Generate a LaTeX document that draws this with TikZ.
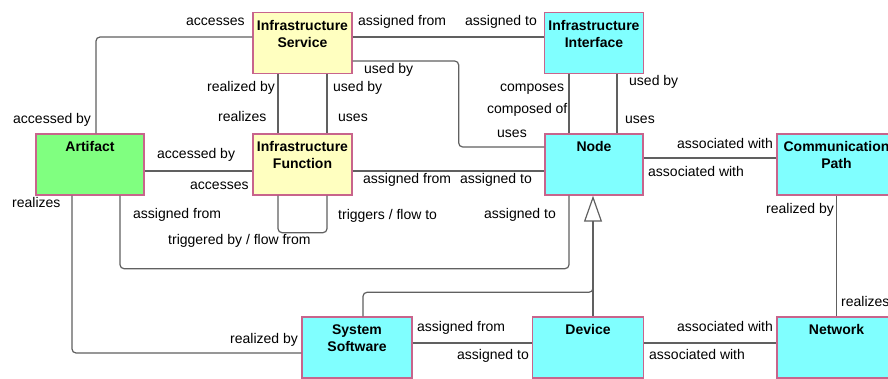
\documentclass[tikz,border=0pt]{standalone}
\usepackage{fontspec}
\setmainfont{Liberation Sans}
\usepackage{xcolor}
\usepackage{tikz}
\usetikzlibrary{arrows.meta,positioning}

\definecolor{boxedge}{HTML}{C8648C}
\definecolor{infrayellow}{HTML}{FFFFC0}
\definecolor{techcyan}{HTML}{80FFFF}
\definecolor{artgreen}{HTML}{80FF80}
\definecolor{linegray}{HTML}{606060}

\begin{document}
\begin{tikzpicture}[x=1pt, y=-1pt,
                    elem/.style={draw=boxedge, line width=1.4pt, minimum height=61pt, inner sep=0pt},
                    ttl/.style={anchor=north, yshift=-8pt, align=center, inner sep=0pt, font=\fontsize{14}{17}\selectfont\bfseries},
                    lbl/.style={anchor=west, inner sep=0pt, text height=10pt, text depth=3pt, font=\fontsize{14}{16}\selectfont},
                    conn/.style={draw=linegray, line width=1.2pt, rounded corners=4pt},
                    gen/.style={-{Triangle[open, length=26pt, width=18pt]}},
                   ]

\useasboundingbox (0,0) rectangle (888,379);

% elements
\node[elem, fill=infrayellow, minimum width=99pt, label={[ttl]north:{Infrastructure\\Service}}] (isvc) at (302.5,43) {};
\node[elem, fill=techcyan, minimum width=99pt, label={[ttl]north:{Infrastructure\\Interface}}] (iifc) at (594,43) {};
\node[elem, fill=artgreen, minimum width=108pt, label={[ttl]north:Artifact}] (artifact) at (90,164.5) {};
\node[elem, fill=infrayellow, minimum width=99pt, label={[ttl]north:{Infrastructure\\Function}}] (ifun) at (302.5,164.5) {};
\node[elem, fill=techcyan, minimum width=98pt, label={[ttl]north:Node}] (node) at (594,164.5) {};
\node[elem, fill=techcyan, minimum width=119pt, label={[ttl]north:{Communication\\Path}}] (cpath) at (836.5,164.5) {};
\node[elem, fill=techcyan, minimum width=110pt, label={[ttl]north:{System\\Software}}] (syssw) at (357,347.5) {};
\node[elem, fill=techcyan, minimum width=111pt, label={[ttl]north:Device}] (device) at (588,347.5) {};
\node[elem, fill=techcyan, minimum width=119pt, label={[ttl]north:Network}] (network) at (836.5,347.5) {};

% relations
\draw[conn] ([xshift=6pt]artifact.north) |- ([yshift=6pt]isvc.west);
\draw[conn] ([yshift=6pt]isvc.east) -- ([yshift=6pt]iifc.west);
\draw[conn] ([yshift=-18pt]isvc.east) -- ++(106,0) |- ([yshift=17.5pt]node.west);
\draw[conn] ([xshift=-24.5pt]isvc.south) -- ([xshift=-24.5pt]ifun.north);
\draw[conn] ([xshift=24.5pt]isvc.south) -- ([xshift=24.5pt]ifun.north);
\draw[conn] ([yshift=-6.5pt]artifact.east) -- ([yshift=-6.5pt]ifun.west);
\draw[conn] ([yshift=-6.5pt]ifun.east) -- ([yshift=-6.5pt]node.west);
\draw[conn] ([xshift=-24.5pt]ifun.south) -- ++(0,37) -| ([xshift=24.5pt]ifun.south);
\draw[conn] ([xshift=30pt]artifact.south) -- ++(0,73) -| ([xshift=-25pt]node.south);
\draw[conn] ([xshift=-18pt]artifact.south) |- ([yshift=-5.5pt]syssw.west);
\draw[conn] ([xshift=-25pt]iifc.south) -- ([xshift=-25pt]node.north);
\draw[conn] ([xshift=23pt]iifc.south) -- ([xshift=23pt]node.north);
\draw[conn] ([yshift=6.5pt]node.east) -- ([yshift=6.5pt]cpath.west);
\draw[conn] (cpath.south) -- (network.north);
\draw[conn] ([yshift=4.5pt]syssw.east) -- ([yshift=4.5pt]device.west);
\draw[conn] ([yshift=4.5pt]device.east) -- ([yshift=4.5pt]network.west);

% specialization
\draw[conn] ([xshift=6pt]syssw.north) -- ++(0,-24) -| ([xshift=-1pt,yshift=-26pt]node.south);
\draw[conn, gen] ([xshift=5pt]device.north) -- ([xshift=-1pt]node.south);

% role names
\node[lbl] (r1) at (186,22) {accesses};
\node[lbl] (r2) at (13,120) {accessed by};
\node[lbl] (r3) at (358,22) {assigned from};
\node[lbl] (r4) at (465,22) {assigned to};
\node[lbl] (r5) at (364,70) {used by};
\node[lbl] (r6) at (497,134) {uses};
\node[lbl] (r7) at (207,88) {realized by};
\node[lbl] (r8) at (218,118) {realizes};
\node[lbl] (r9) at (333,88) {used by};
\node[lbl] (r10) at (338,118) {uses};
\node[lbl] (r11) at (157,155) {accessed by};
\node[lbl] (r12) at (190,186) {accesses};
\node[lbl] (r13) at (363,180) {assigned from};
\node[lbl] (r14) at (460,180) {assigned to};
\node[lbl] (r15) at (500,88) {composes};
\node[lbl] (r16) at (487,110) {composed of};
\node[lbl] (r17) at (629,82) {used by};
\node[lbl] (r18) at (625,120) {uses};
\node[lbl] (r19) at (677,145) {associated with};
\node[lbl] (r20) at (648,173) {associated with};
\node[lbl] (r21) at (12,204) {realizes};
\node[lbl] (r22) at (133,215) {assigned from};
\node[lbl] (r23) at (484,215) {assigned to};
\node[lbl] (r24) at (338,216) {triggers / flow to};
\node[lbl] (r25) at (168,241) {triggered by / flow from};
\node[lbl] (r26) at (766,210) {realized by};
\node[lbl] (r27) at (841,303) {realizes};
\node[lbl] (r28) at (230,340) {realized by};
\node[lbl] (r29) at (417,328) {assigned from};
\node[lbl] (r30) at (457,356) {assigned to};
\node[lbl] (r31) at (677,328) {associated with};
\node[lbl] (r32) at (649,356) {associated with};

\end{tikzpicture}
\end{document}
